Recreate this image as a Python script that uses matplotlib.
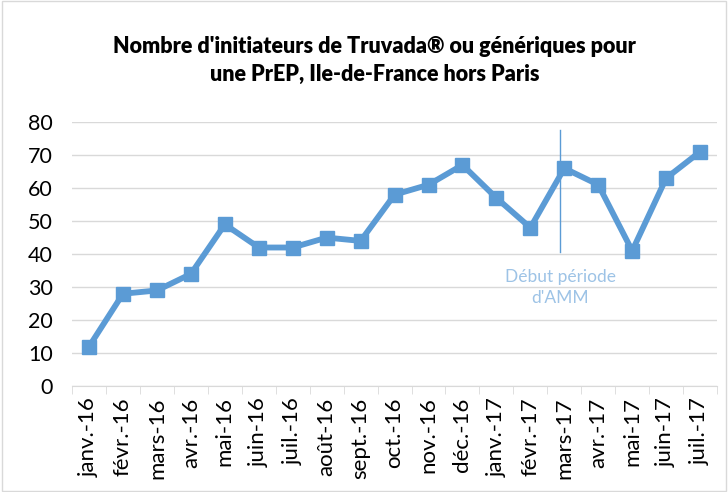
import matplotlib
matplotlib.use('Agg')
import matplotlib.pyplot as plt
import numpy as np

months = ['janv.-16', 'févr.-16', 'mars-16', 'avr.-16', 'mai-16', 'juin-16',
          'juil.-16', 'août-16', 'sept.-16', 'oct.-16', 'nov.-16', 'déc.-16',
          'janv.-17', 'févr.-17', 'mars-17', 'avr.-17', 'mai-17', 'juin-17',
          'juil.-17']
initiateurs = [12, 28, 29, 34, 49, 42, 42, 45, 44, 58, 61, 67, 57, 48, 66,
               61, 41, 63, 71]
y_ticks = [0, 10, 20, 30, 40, 50, 60, 70, 80]

blue = '#5B9BD5'
plt.rcParams['font.family'] = ['Lato', 'DejaVu Sans']

def main():
    fig = plt.figure(figsize=(7.28, 4.92), dpi=100)
    ax = fig.add_axes([0.099, 0.215, 0.886, 0.537])

    x = np.arange(len(months))
    ax.plot(x, initiateurs, color=blue, linewidth=4.2, marker='s',
            markersize=10.5, zorder=3)

    # vertical line for start of AMM period
    ax.plot([13.88, 13.88], [40.5, 77.6], color=blue, linewidth=1, zorder=2)
    ax.text(13.88, 33, 'Début période', color='#9DC3E6', fontsize=12.5,
            ha='center', va='center')
    ax.text(13.88, 26.7, "d'AMM", color='#9DC3E6', fontsize=12.5,
            ha='center', va='center')

    ax.set_xlim(-0.5, len(months) - 0.5)
    ax.set_ylim(0, 80)
    ax.set_yticks(y_ticks)
    ax.set_xticks(x)
    ax.set_xticklabels(months, rotation=90, fontsize=16)
    ax.set_xticks(np.arange(-0.5, len(months), 1), minor=True)
    ax.tick_params(axis='x', which='major', length=0, pad=8)
    ax.tick_params(axis='x', which='minor', length=6, color='#D9D9D9')
    ax.tick_params(axis='y', length=0, labelsize=15.5, pad=14)
    ax.grid(axis='y', color='#D9D9D9', linewidth=1)
    ax.set_axisbelow(True)
    for s in ['top', 'right', 'left']:
        ax.spines[s].set_visible(False)
    ax.spines['bottom'].set_color('#D9D9D9')

    fig.text(0.515, 0.905, "Nombre d'initiateurs de Truvada® ou génériques pour",
             ha='center', va='center', fontsize=15.5, fontweight='heavy')
    fig.text(0.515, 0.848, "une PrEP, Ile-de-France hors Paris",
             ha='center', va='center', fontsize=15.5, fontweight='heavy')

    border = plt.Rectangle((0.003, 0.003), 0.994, 0.994, transform=fig.transFigure,
                           fill=False, edgecolor='#D9D9D9', linewidth=1)
    fig.patches.append(border)

    plt.savefig('out.png', dpi=100)

if __name__ == '__main__':
    main()
